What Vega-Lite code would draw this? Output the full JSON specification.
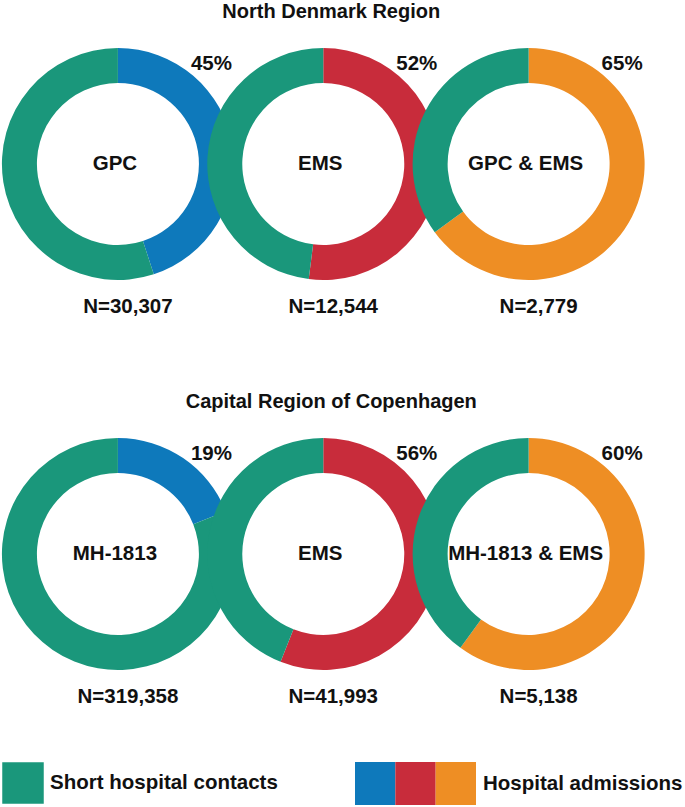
{
  "$schema": "https://vega.github.io/schema/vega-lite/v6.json",
  "width": 685,
  "height": 807,
  "autosize": {"type": "none"},
  "padding": 0,
  "background": "white",
  "config": {"view": {"stroke": null}, "font": "Liberation Sans"},
  "datasets": {
    "donuts": [
      {"region": "North Denmark Region", "row": 1, "col": 1, "label": "GPC", "n": 30307, "admission": 0.45, "short": 0.55},
      {"region": "North Denmark Region", "row": 1, "col": 2, "label": "EMS", "n": 12544, "admission": 0.52, "short": 0.48},
      {"region": "North Denmark Region", "row": 1, "col": 3, "label": "GPC & EMS", "n": 2779, "admission": 0.65, "short": 0.35},
      {"region": "Capital Region of Copenhagen", "row": 2, "col": 1, "label": "MH-1813", "n": 319358, "admission": 0.19, "short": 0.81},
      {"region": "Capital Region of Copenhagen", "row": 2, "col": 2, "label": "EMS", "n": 41993, "admission": 0.56, "short": 0.44},
      {"region": "Capital Region of Copenhagen", "row": 2, "col": 3, "label": "MH-1813 & EMS", "n": 5138, "admission": 0.60, "short": 0.40}
    ]
  },
  "data": {"name": "donuts"},
  "encoding": {
    "x": {"field": "col", "type": "quantitative", "scale": {"domain": [0.42576, 3.76153], "zero": false, "nice": false}, "axis": null},
    "y": {"field": "row", "type": "quantitative", "scale": {"domain": [0.57949, 2.64872], "zero": false, "nice": false, "reverse": true}, "axis": null}
  },
  "layer": [
    {
      "transform": [
        {"fold": ["admission", "short"], "as": ["part", "share"]},
        {"stack": "share", "groupby": ["row", "col"], "sort": [{"field": "part", "order": "ascending"}], "as": ["s0", "s1"]}
      ],
      "mark": {"type": "arc", "radius": 116, "radius2": 81},
      "encoding": {
        "theta": {"field": "s0", "type": "quantitative", "scale": {"domain": [0, 1]}},
        "theta2": {"field": "s1"},
        "color": {
          "condition": {"test": "datum.part === 'short'", "value": "#1a977b"},
          "field": "col", "type": "ordinal",
          "scale": {"domain": [1, 2, 3], "range": ["#0e79bb", "#c82c3b", "#ee8e24"]},
          "legend": null
        },
        "order": {"field": "col", "type": "quantitative"}
      }
    },
    {
      "mark": {"type": "text", "font": "Liberation Sans", "fontSize": 20.5, "fontWeight": "bold", "color": "#111", "align": "center", "baseline": "middle", "dx": -3},
      "encoding": {"text": {"field": "label", "type": "nominal"}}
    },
    {
      "mark": {"type": "text", "font": "Liberation Sans", "fontSize": 20.5, "fontWeight": "bold", "color": "#111", "align": "center", "baseline": "middle", "dx": 93.5, "dy": -100},
      "encoding": {"text": {"field": "admission", "type": "quantitative", "format": ".0%"}}
    },
    {
      "mark": {"type": "text", "font": "Liberation Sans", "fontSize": 20.5, "fontWeight": "bold", "color": "#111", "align": "center", "baseline": "middle", "dx": 10, "dy": 143, "text": {"expr": "'N=' + format(datum.n, ',')"}},
      "encoding": {}
    },
    {
      "transform": [{"filter": "datum.col === 2"}],
      "mark": {"type": "text", "font": "Liberation Sans", "fontSize": 20, "fontWeight": "bold", "color": "#111", "align": "center", "baseline": "middle", "dx": 8, "dy": -152},
      "encoding": {"text": {"field": "region", "type": "nominal"}}
    },
    {
      "mark": {"type": "square", "opacity": 0},
      "encoding": {
        "color": {
          "datum": "Short hospital contacts", "type": "nominal",
          "scale": {"range": ["#1a977b"]},
          "legend": {
            "title": null, "orient": "none", "legendX": 2, "legendY": 762,
            "symbolType": "square", "symbolSize": 1722, "symbolStrokeWidth": 0, "symbolOpacity": 1,
            "labelFont": "Liberation Sans", "labelFontSize": 20.5, "labelFontWeight": "bold", "labelColor": "#111",
            "labelOffset": 6, "labelLimit": 400, "padding": 0
          }
        }
      }
    },
    {
      "mark": {"type": "square", "opacity": 0},
      "encoding": {
        "color": {
          "field": "col", "type": "quantitative",
          "scale": {"type": "threshold", "domain": [1.5, 2.5], "range": ["#0e79bb", "#c82c3b", "#ee8e24"]},
          "legend": {
            "type": "gradient", "direction": "horizontal", "title": "Hospital admissions",
            "orient": "none", "legendX": 355, "legendY": 762,
            "gradientLength": 121, "gradientThickness": 43, "gradientStrokeWidth": 0,
            "labelExpr": "''", "labelFontSize": 1, "labelOffset": 0,
            "titleOrient": "right", "titleFont": "Liberation Sans", "titleFontSize": 20.5, "titleFontWeight": "bold",
            "titleColor": "#111", "titlePadding": 7, "titleBaseline": "middle", "titleAnchor": "middle",
            "titleLimit": 400, "padding": 0
          }
        }
      }
    }
  ],
  "resolve": {"scale": {"color": "independent"}}
}
